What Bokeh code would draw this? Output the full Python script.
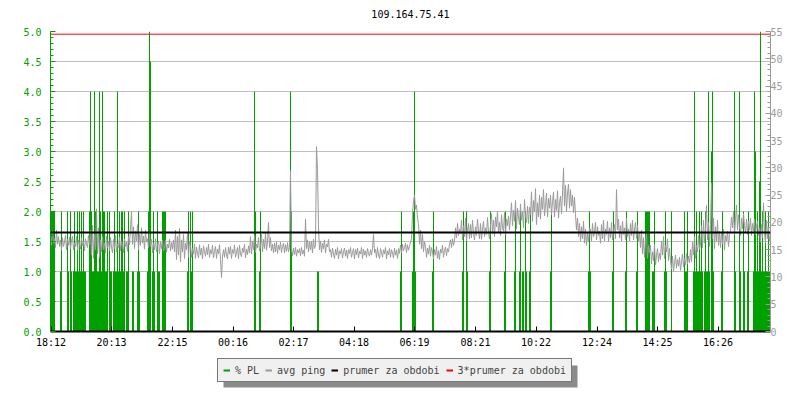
from bokeh.plotting import figure
from bokeh.layouts import column
from bokeh.models import (Range1d, LinearAxis, FixedTicker, SingleIntervalTicker, Span,
                          Legend, LegendItem, ColumnDataSource, NumeralTickFormatter,
                          BoxAnnotation, Label)
from bokeh.embed import file_html
from bokeh.resources import INLINE

# ---------------- data ----------------
title_text = "109.164.75.41"
start_clock = "18:11"          # left edge of the time axis
period_min = 1440              # 24 hours shown
tick_labels = ["18:12", "20:13", "22:15", "00:16", "02:17", "04:18",
               "06:19", "08:21", "10:22", "12:24", "14:25", "16:26"]

# avg ping (ms), one sample per 2-minute step from the left edge
ping_step_min = 2
ping_ms = [
    17.6, 15.8, 18.4, 16.2, 17.0, 15.4, 18.6, 16.0, 17.4, 15.6, 16.8, 14.9, 17.2, 15.6, 16.4, 17.6, 15.0, 16.9, 15.8, 17.3,
    15.2, 16.6, 17.5, 15.0, 16.2, 15.6, 17.4, 14.9, 16.8, 16.0, 15.1, 17.2, 15.7, 16.5, 14.8, 17.0, 16.1, 15.4, 17.6, 15.9,
    18.6, 14.0, 19.5, 13.4, 17.8, 15.0, 22.5, 14.2, 19.0, 13.6, 16.8, 14.6, 17.4, 15.0, 16.2, 14.4, 17.5, 15.3, 16.6, 14.8,
    17.2, 15.5, 14.4, 16.9, 15.2, 17.6, 14.6, 16.0, 15.4, 17.3, 14.8, 16.6, 15.8, 14.5, 17.0, 15.6, 16.4, 14.7, 17.4, 15.9,
    18.8, 22.0, 16.0, 19.2, 15.2, 18.4, 16.6, 19.6, 15.0, 17.8, 15.8, 19.0, 16.2, 17.5, 15.1, 18.6, 16.4, 17.0, 15.4, 18.2,
    15.6, 16.9, 14.4, 16.2, 15.0, 17.0, 14.6, 15.8, 16.6, 14.3, 16.4, 15.2, 16.8, 14.7, 15.5, 16.7, 14.5, 16.0, 15.3, 16.9,
    14.8, 16.3, 15.1, 16.8, 14.6, 18.6, 13.2, 17.4, 14.0, 18.9, 12.8, 16.8, 14.6, 17.8, 13.4, 16.2, 15.0, 18.0, 13.6, 16.6,
    15.8, 13.6, 15.2, 14.2, 16.0, 13.4, 15.5, 14.4, 13.5, 15.9, 14.0, 15.3, 13.3, 15.7, 14.6, 13.8, 15.4, 14.1, 16.0, 13.6,
    15.0, 14.2, 15.8, 13.5, 14.8, 15.6, 13.4, 15.1, 14.3, 15.9, 13.2, 9.9, 13.8, 15.0, 13.6, 15.4, 14.0, 13.3, 15.5, 14.2,
    15.6, 13.4, 15.0, 14.3, 15.9, 13.6, 14.6, 15.4, 13.3, 15.8, 14.2, 13.7, 15.3, 14.5, 16.0, 13.5, 15.1, 14.1, 15.7, 14.4,
    17.4, 14.2, 16.6, 15.0, 17.6, 14.5, 16.0, 15.3, 17.2, 14.8, 15.6, 17.8, 14.6, 16.9, 15.2, 18.0, 14.9, 16.4, 20.0, 15.4,
    17.2, 14.8, 16.0, 14.4, 16.2, 14.6, 16.5, 14.3, 15.8, 15.0, 16.4, 14.5, 15.6, 16.2, 14.4, 15.9, 14.7, 16.3, 14.6, 15.4,
    29.5, 15.0, 13.9, 15.3, 14.1, 15.4, 13.8, 15.0, 14.4, 15.2, 13.9, 15.4, 14.2, 14.9, 13.8, 20.6, 15.2, 16.8, 14.6, 16.5,
    15.0, 16.6, 14.4, 16.9, 15.2, 15.8, 33.9, 29.7, 19.0, 15.0, 16.6, 14.5, 16.2, 15.2, 16.8, 14.4, 16.0, 15.5, 16.9, 14.6,
    15.0, 13.6, 15.3, 14.2, 13.4, 15.1, 14.0, 15.4, 13.3, 14.8, 14.2, 15.2, 13.5, 14.6, 15.3, 13.8, 14.9, 13.4, 15.0, 14.3,
    15.4, 13.6, 14.5, 15.2, 13.3, 15.0, 14.1, 15.3, 13.5, 14.7, 14.2, 15.4, 13.4, 15.1, 14.0, 14.8, 13.6, 15.2, 14.3, 13.8,
    15.0, 14.0, 15.3, 17.8, 14.4, 15.1, 13.5, 15.4, 14.0, 13.4, 15.2, 14.6, 13.6, 15.0, 14.2, 15.4, 13.3, 14.8, 14.1, 15.2,
    13.6, 15.0, 14.4, 13.5, 15.3, 14.0, 14.9, 13.4, 15.2, 14.3, 15.8, 14.4, 16.0, 14.8, 15.4, 16.2, 14.5, 15.9, 14.9, 15.6,
    16.4, 17.0, 21.5, 24.0, 25.0, 22.4, 23.2, 20.8, 19.8, 16.0, 18.6, 15.2, 17.8, 14.6, 16.5, 15.6, 13.6, 15.3, 14.2, 15.8,
    13.8, 15.4, 14.6, 13.3, 15.0, 14.0, 15.6, 13.4, 14.8, 13.2, 15.1, 14.4, 15.8, 13.6, 14.9, 15.5, 13.9, 15.2, 14.6, 16.0,
    16.8, 15.4, 17.0, 15.8, 16.6, 19.0, 17.2, 19.8, 17.6, 18.8, 18.0, 20.4, 16.8, 19.4, 17.4, 20.8, 16.6, 18.6, 19.8, 17.0,
    19.6, 17.2, 20.4, 18.0, 16.8, 19.2, 17.6, 20.6, 18.4, 17.0, 19.8, 16.9, 18.8, 20.2, 17.4, 19.0, 17.8, 20.9, 18.2, 17.0,
    19.5, 21.6, 18.0, 20.4, 17.4, 21.0, 19.2, 22.0, 18.2, 20.0, 17.6, 21.4, 19.0, 18.4, 21.8, 17.8, 20.6, 19.4, 21.2, 18.6,
    21.0, 23.6, 19.4, 22.2, 20.2, 24.0, 18.8, 22.6, 21.0, 19.6, 23.4, 20.4, 22.0, 19.0, 24.2, 21.2, 20.0, 23.0, 19.8, 22.8,
    21.4, 25.6, 20.2, 24.0, 22.0, 26.2, 19.6, 23.6, 21.0, 25.0, 20.6, 24.6, 22.4, 26.0, 21.2, 23.2, 25.4, 21.0, 24.4, 22.6,
    25.0, 21.4, 23.8, 25.6, 21.0, 24.2, 22.2, 25.8, 20.8, 23.6, 24.8, 21.6, 25.2, 30.0, 23.0, 26.8, 22.0, 25.4, 27.0, 22.6,
    26.0, 23.0, 25.0, 21.8, 24.6, 21.4, 18.6, 20.8, 17.4, 19.8, 16.6, 19.2, 17.0, 20.2, 16.2, 18.8, 15.8, 18.0, 16.4, 19.0,
    18.6, 16.6, 19.8, 17.4, 18.2, 20.0, 16.8, 19.2, 17.6, 18.4, 16.2, 19.6, 17.0, 20.4, 16.6, 18.8, 17.8, 20.2, 16.4, 19.0,
    17.2, 20.0, 16.8, 18.4, 19.6, 17.0, 26.0, 18.6, 20.6, 17.2, 19.4, 16.6, 20.2, 17.8, 19.0, 16.8, 20.8, 17.4, 18.8, 16.6,
    19.8, 17.6, 20.4, 16.8, 18.6, 20.0, 17.0, 19.4, 16.6, 18.2, 15.4, 18.6, 14.2, 17.2, 13.6, 16.4, 18.0, 13.4, 15.8, 14.4,
    15.8, 12.4, 14.6, 13.0, 16.0, 12.2, 14.0, 15.2, 12.8, 14.4, 13.2, 16.6, 14.0, 17.4, 13.4, 15.8, 14.6, 17.0, 13.0, 15.2,
    13.0, 11.4, 13.8, 11.0, 12.6, 14.0, 11.6, 13.2, 12.0, 13.6, 11.2, 12.8, 14.2, 11.8, 13.4, 12.2, 14.3, 12.4, 13.8, 12.6,
    15.0, 12.8, 16.4, 14.0, 17.4, 13.4, 15.8, 14.6, 17.6, 15.0, 16.0, 19.4, 15.4, 20.4, 16.2, 18.8, 23.1, 16.8, 20.0, 15.6,
    19.6, 27.2, 17.0, 20.8, 15.2, 19.2, 16.4, 20.4, 15.8, 18.4, 15.4, 18.2, 16.0, 18.7, 15.0, 17.6, 16.6, 18.4, 15.6, 17.8,
    18.4, 21.0, 19.0, 22.0, 17.8, 20.6, 23.2, 18.6, 21.4, 19.2, 17.6, 20.8, 18.8, 21.6, 19.4, 18.0, 20.6, 17.8, 20.2, 18.6,
    20.8, 17.6, 19.8, 18.4, 20.6, 17.8, 19.4, 20.2, 17.6, 19.0, 16.4, 19.6, 17.2, 23.6, 18.0, 16.2, 20.4, 17.0, 19.2, 16.6,
]

# packet loss: 2-minute slot index (from the left edge) and % PL in that slot
pl_slot_min = 2
pl_slot = [
    0, 1, 2, 3, 4,
    10, 11, 17, 18, 20, 21,
    23, 24, 25, 26, 27, 28, 29, 30, 31, 32, 33, 34, 35,
    39, 40, 41, 42, 43, 44, 45, 46, 47, 48, 49, 50, 51, 52, 53, 54, 55, 56, 57,
    59, 60, 61, 63, 64, 65,
    66, 67, 68, 69, 70, 71, 72, 73, 74,
    76, 77, 78, 82, 83, 87, 88, 89,
    97, 98, 99, 100, 102, 103, 104, 107, 108, 109, 112, 113, 114, 115,
    137, 138, 140, 141, 142,
    204, 205, 209, 210, 240, 241, 267, 268, 350, 351,
    362, 363, 364, 365, 382, 383, 412, 413, 416, 417,
    439, 440, 454, 455, 464, 465, 469, 470, 472, 473, 475, 476, 479, 480,
    500, 501, 538, 539, 540,
    562, 563, 575, 576, 586, 587,
    595, 596, 597, 598, 599, 602, 603, 604, 614, 615, 616, 621,
    634, 635, 636, 637,
    643, 644, 645, 646, 647, 648, 649, 650, 651, 652,
    654, 655, 656, 657, 658, 659, 661, 662, 663,
    671, 672, 684, 685, 689, 690, 693, 694, 697, 698,
    703, 704, 705, 706, 707, 708, 709, 710, 711, 712, 713, 714, 715, 716, 717, 718, 719,
]
pl_pct = [
    2, 2, 2, 2, 2,
    1, 2, 2, 1, 2, 1,
    1, 2, 1, 1, 2, 1, 2, 1, 2, 1, 2, 1, 1,
    2, 4, 2, 1, 1, 4, 2, 2, 1, 1, 4, 2, 1, 4, 2, 2, 1, 1, 2,
    2, 1, 1, 1, 2, 1,
    1, 4, 1, 2, 1, 2, 2, 1, 2,
    1, 1, 2, 1, 1, 1, 2, 1,
    1, 2, 5, 4.5, 1, 2, 1, 2, 1, 1, 2, 2, 2, 2,
    1, 2, 2, 1, 2,
    4, 2, 1, 2, 4, 2, 1, 1, 1, 2,
    1, 2, 4, 1, 1, 2, 1, 2, 2, 1,
    1, 2, 1, 2, 1, 2, 1, 2, 1, 1, 2, 1, 1, 2,
    1, 2, 1, 2, 1,
    1, 2, 1, 2, 1, 2,
    2, 2, 2, 2, 2, 1, 1, 2, 1, 2, 1, 2,
    2, 1, 1, 2,
    1, 4, 1, 2, 1, 1, 2, 1, 2, 1,
    1, 2, 1, 1, 4, 1, 3, 4, 1,
    1, 2, 4, 1, 4, 1, 2, 1, 1, 2,
    1, 4, 3, 1, 2, 1, 2.5, 5, 1, 2, 1, 1, 2, 1, 1, 2, 1,
]

mean_ping_ms = 18.17           # "prumer za obdobi"
ping_axis_max = 55
pl_axis_max = 5.0
legend_labels = ["% PL", "avg ping", "prumer za obdobi", "3*prumer za obdobi"]

# ---------------- derived ----------------
def clock_offset(s):
    h, m = map(int, s.split(":"))
    sh, sm = map(int, start_clock.split(":"))
    return ((h * 60 + m) - (sh * 60 + sm)) % 1440

tick_pos = [clock_offset(s) for s in tick_labels]
ping_t = [ping_step_min * k for k in range(len(ping_ms))]
n = min(len(pl_slot), len(pl_pct))
pl_t = [pl_slot_min * s for s in pl_slot[:n]]

GREEN = "#00a000"
GRAY = "#9a9a9a"
RED = "#ff0000"
FONT = "DejaVu Sans Mono"

# layout geometry (pixels); the strips' frames get aligned to the chart frame
FRAME_L, FRAME_W, BORDER_R = 50, 720, 22
TOTAL_W = FRAME_L + FRAME_W + BORDER_R
TITLE_H = 20
LEG_H = 49

# ---------------- title strip ----------------
pt = figure(width=TOTAL_W, height=TITLE_H, min_border=0,
            x_range=Range1d(0, TOTAL_W), y_range=Range1d(0, TITLE_H),
            x_axis_type=None, y_axis_type=None, sizing_mode="fixed",
            output_backend="svg", toolbar_location=None, tools="")
pt.outline_line_color = None
pt.grid.visible = False
pt.add_layout(Label(x=FRAME_W / 2, y=TITLE_H - 13.5, x_units="screen", y_units="screen",
                    text=title_text, text_align="center", text_baseline="middle",
                    text_font=FONT, text_font_size="10px", text_color="black"))

# ---------------- main chart ----------------
p = figure(frame_width=FRAME_W, frame_height=300,
           min_border_left=FRAME_L, min_border_right=BORDER_R,
           min_border_top=11, min_border_bottom=20,
           x_range=Range1d(0, period_min), y_range=Range1d(0, pl_axis_max),
           output_backend="svg", toolbar_location=None, tools="",
           background_fill_color="white", border_fill_color="white")
p.outline_line_color = None
p.extra_y_ranges = {"ping": Range1d(0, ping_axis_max)}

p.xgrid.grid_line_color = None
p.ygrid.grid_line_color = "#c0c0c0"
p.ygrid.ticker = SingleIntervalTicker(interval=0.5)

src_pl = ColumnDataSource(dict(t=pl_t, v=pl_pct[:n], z=[0] * n))
p.segment(x0="t", y0="z", x1="t", y1="v", source=src_pl,
          line_color=GREEN, line_width=1)
src_ping = ColumnDataSource(dict(t=ping_t, v=ping_ms))
p.line(x="t", y="v", source=src_ping, line_color=GRAY, line_width=1, y_range_name="ping")

p.add_layout(Span(location=mean_ping_ms, dimension="width", y_range_name="ping",
                  line_color="black", line_width=2))
p.add_layout(Span(location=3 * mean_ping_ms, dimension="width", y_range_name="ping",
                  line_color=RED, line_width=1))

xa = p.xaxis[0]
xa.ticker = FixedTicker(ticks=tick_pos)
xa.major_label_overrides = {t: s for t, s in zip(tick_pos, tick_labels)}
xa.axis_line_color = "black"
xa.axis_line_width = 2
xa.major_tick_in = 5
xa.major_tick_out = 0
xa.minor_tick_line_color = None
xa.major_tick_line_color = "black"
xa.major_label_text_font = FONT
xa.major_label_text_font_size = "10px"
xa.major_label_text_color = "black"
xa.major_label_standoff = 5

ya = p.yaxis[0]
ya.ticker = SingleIntervalTicker(interval=0.5, num_minor_ticks=5)
ya.formatter = NumeralTickFormatter(format="0.0")
ya.axis_line_color = GREEN
ya.major_tick_line_color = GREEN
ya.minor_tick_line_color = GREEN
ya.major_tick_in = 5
ya.major_tick_out = 0
ya.minor_tick_in = 3
ya.minor_tick_out = 0
ya.major_label_text_color = GREEN
ya.major_label_text_font = FONT
ya.major_label_text_font_size = "10px"
ya.major_label_standoff = 9

ra = LinearAxis(y_range_name="ping", ticker=SingleIntervalTicker(interval=5, num_minor_ticks=5))
ra.axis_line_color = GRAY
ra.major_tick_line_color = GRAY
ra.minor_tick_line_color = GRAY
ra.major_tick_in = 5
ra.major_tick_out = 0
ra.minor_tick_in = 3
ra.minor_tick_out = 0
ra.major_label_text_color = GRAY
ra.major_label_text_font = FONT
ra.major_label_text_font_size = "10px"
ra.major_label_standoff = 0
p.add_layout(ra, "right")

# ---------------- legend strip (with drop shadow) ----------------
pl = figure(width=TOTAL_W, height=LEG_H, min_border=0,
            x_range=Range1d(0, TOTAL_W), y_range=Range1d(0, LEG_H),
            x_axis_type=None, y_axis_type=None, sizing_mode="fixed",
            output_backend="svg", toolbar_location=None, tools="")
pl.outline_line_color = None
pl.grid.visible = False

# legend box position, relative to the (aligned) frame's bottom-left corner
LX, LY, LW, LH, SH = 217 - FRAME_L, 18, 354, 22, 5
pl.add_layout(BoxAnnotation(left=LX + SH + 1, right=LX + LW + SH + 1,
                            bottom=LY - SH, top=LY + LH - SH,
                            left_units="screen", right_units="screen",
                            top_units="screen", bottom_units="screen",
                            fill_color="#8a8a8a", fill_alpha=1, line_color=None))

leg_colors = [GREEN, GRAY, "black", RED]
items = []
for lbl, c in zip(legend_labels, leg_colors):
    # legend swatch renderer, kept outside the visible strip
    r = pl.line(x=[-20, -10], y=[-20, -20], line_color=c, line_width=2)
    items.append(LegendItem(label=lbl, renderers=[r]))

legend = Legend(items=items, location=(LX, LY), orientation="horizontal",
                margin=0, padding=5, spacing=6, label_standoff=5,
                glyph_width=7, glyph_height=12, label_height=12,
                label_text_font=FONT, label_text_font_size="10px",
                border_line_color="black", border_line_width=1,
                background_fill_color="#f0f0f0", background_fill_alpha=1)
pl.add_layout(legend)

page = column(pt, p, pl, spacing=0)
open("out.html", "w").write(file_html(page, INLINE))
